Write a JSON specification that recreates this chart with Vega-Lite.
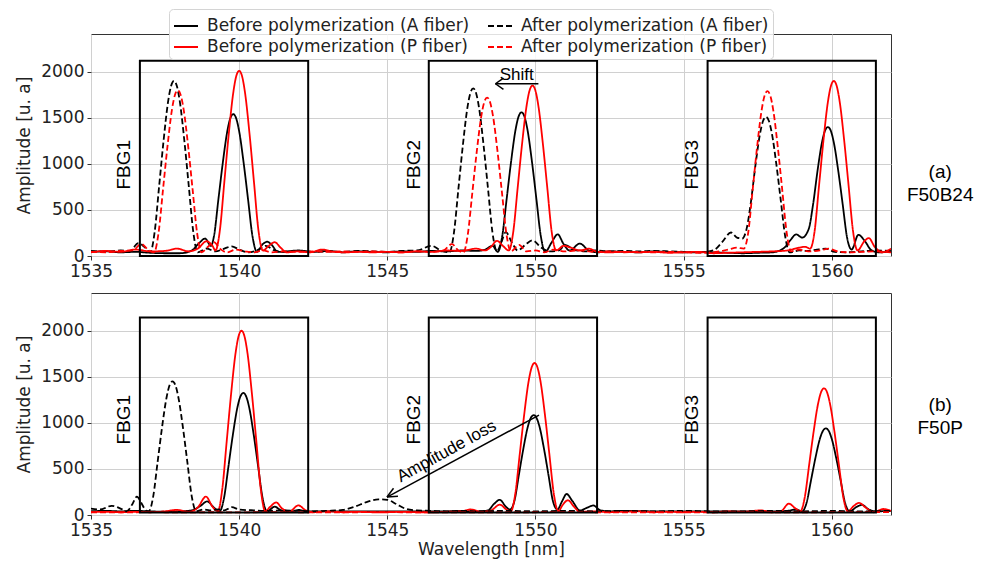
{
"$schema": "https://vega.github.io/schema/vega-lite/v6.json",
"padding": {"left": 15, "top": 8, "right": 5, "bottom": 5},
"bounds": "flush",
"spacing": 37,
"datasets": {
"A": [
{"s":"BA","x":1535,"y":45},{"s":"BA","x":1535.5,"y":50},{"s":"BA","x":1536,"y":40},{"s":"BA","x":1536.5,"y":45},{"s":"BA","x":1537,"y":35},{"s":"BA","x":1537.5,"y":30},{"s":"BA","x":1538,"y":30},{"s":"BA","x":1538.4,"y":60},{"s":"BA","x":1538.65,"y":140},{"s":"BA","x":1538.85,"y":190},{"s":"BA","x":1539.05,"y":110},{"s":"BA","x":1539.15,"y":215},{"s":"BA","x":1539.3,"y":616},{"s":"BA","x":1539.45,"y":1016},{"s":"BA","x":1539.6,"y":1355},{"s":"BA","x":1539.7,"y":1494},{"s":"BA","x":1539.8,"y":1540},{"s":"BA","x":1539.9,"y":1494},{"s":"BA","x":1540,"y":1355},{"s":"BA","x":1540.15,"y":1016},{"s":"BA","x":1540.3,"y":616},{"s":"BA","x":1540.45,"y":215},{"s":"BA","x":1540.6,"y":45},{"s":"BA","x":1540.8,"y":130},{"s":"BA","x":1540.95,"y":155},{"s":"BA","x":1541.1,"y":120},{"s":"BA","x":1541.3,"y":45},{"s":"BA","x":1541.6,"y":50},{"s":"BA","x":1542,"y":60},{"s":"BA","x":1542.5,"y":45},{"s":"BA","x":1543,"y":55},{"s":"BA","x":1543.5,"y":40},{"s":"BA","x":1544,"y":50},{"s":"BA","x":1544.5,"y":45},{"s":"BA","x":1545,"y":40},{"s":"BA","x":1545.5,"y":50},{"s":"BA","x":1546,"y":45},{"s":"BA","x":1546.5,"y":55},{"s":"BA","x":1547,"y":50},{"s":"BA","x":1547.5,"y":60},{"s":"BA","x":1548,"y":55},{"s":"BA","x":1548.3,"y":70},{"s":"BA","x":1548.55,"y":110},{"s":"BA","x":1548.73,"y":45},{"s":"BA","x":1548.88,"y":218},{"s":"BA","x":1549.03,"y":624},{"s":"BA","x":1549.18,"y":1030},{"s":"BA","x":1549.33,"y":1373},{"s":"BA","x":1549.43,"y":1513},{"s":"BA","x":1549.53,"y":1560},{"s":"BA","x":1549.63,"y":1513},{"s":"BA","x":1549.73,"y":1373},{"s":"BA","x":1549.88,"y":1030},{"s":"BA","x":1550.03,"y":624},{"s":"BA","x":1550.18,"y":218},{"s":"BA","x":1550.33,"y":45},{"s":"BA","x":1550.55,"y":150},{"s":"BA","x":1550.75,"y":235},{"s":"BA","x":1550.95,"y":130},{"s":"BA","x":1551.15,"y":60},{"s":"BA","x":1551.5,"y":135},{"s":"BA","x":1551.8,"y":60},{"s":"BA","x":1552.1,"y":40},{"s":"BA","x":1552.5,"y":50},{"s":"BA","x":1553,"y":45},{"s":"BA","x":1553.5,"y":40},{"s":"BA","x":1554,"y":50},{"s":"BA","x":1554.5,"y":45},{"s":"BA","x":1555,"y":40},{"s":"BA","x":1555.5,"y":45},{"s":"BA","x":1556,"y":40},{"s":"BA","x":1556.5,"y":35},{"s":"BA","x":1557,"y":30},{"s":"BA","x":1557.5,"y":35},{"s":"BA","x":1558,"y":40},{"s":"BA","x":1558.4,"y":90},{"s":"BA","x":1558.6,"y":170},{"s":"BA","x":1558.8,"y":235},{"s":"BA","x":1559,"y":200},{"s":"BA","x":1559.22,"y":290},{"s":"BA","x":1559.37,"y":560},{"s":"BA","x":1559.52,"y":924},{"s":"BA","x":1559.67,"y":1232},{"s":"BA","x":1559.77,"y":1358},{"s":"BA","x":1559.87,"y":1400},{"s":"BA","x":1559.97,"y":1358},{"s":"BA","x":1560.07,"y":1232},{"s":"BA","x":1560.22,"y":924},{"s":"BA","x":1560.37,"y":560},{"s":"BA","x":1560.52,"y":196},{"s":"BA","x":1560.67,"y":70},{"s":"BA","x":1560.9,"y":230},{"s":"BA","x":1561.1,"y":170},{"s":"BA","x":1561.35,"y":60},{"s":"BA","x":1561.6,"y":40},{"s":"BA","x":1562,"y":50},
{"s":"AA","x":1535,"y":55},{"s":"AA","x":1535.5,"y":45},{"s":"AA","x":1536,"y":60},{"s":"AA","x":1536.3,"y":50},{"s":"AA","x":1536.6,"y":140},{"s":"AA","x":1536.8,"y":100},{"s":"AA","x":1537,"y":40},{"s":"AA","x":1537.15,"y":266},{"s":"AA","x":1537.3,"y":760},{"s":"AA","x":1537.45,"y":1254},{"s":"AA","x":1537.6,"y":1672},{"s":"AA","x":1537.7,"y":1843},{"s":"AA","x":1537.8,"y":1900},{"s":"AA","x":1537.9,"y":1843},{"s":"AA","x":1538,"y":1672},{"s":"AA","x":1538.15,"y":1254},{"s":"AA","x":1538.3,"y":760},{"s":"AA","x":1538.45,"y":266},{"s":"AA","x":1538.6,"y":40},{"s":"AA","x":1538.9,"y":80},{"s":"AA","x":1539.2,"y":50},{"s":"AA","x":1539.5,"y":80},{"s":"AA","x":1539.75,"y":105},{"s":"AA","x":1540,"y":70},{"s":"AA","x":1540.3,"y":40},{"s":"AA","x":1540.6,"y":60},{"s":"AA","x":1540.9,"y":110},{"s":"AA","x":1541.2,"y":60},{"s":"AA","x":1541.5,"y":45},{"s":"AA","x":1542,"y":55},{"s":"AA","x":1542.5,"y":45},{"s":"AA","x":1543,"y":50},{"s":"AA","x":1543.5,"y":45},{"s":"AA","x":1544,"y":55},{"s":"AA","x":1544.5,"y":50},{"s":"AA","x":1545,"y":45},{"s":"AA","x":1545.5,"y":55},{"s":"AA","x":1546,"y":60},{"s":"AA","x":1546.5,"y":110},{"s":"AA","x":1546.8,"y":60},{"s":"AA","x":1547.1,"y":40},{"s":"AA","x":1547.25,"y":255},{"s":"AA","x":1547.4,"y":728},{"s":"AA","x":1547.55,"y":1201},{"s":"AA","x":1547.7,"y":1602},{"s":"AA","x":1547.8,"y":1765},{"s":"AA","x":1547.9,"y":1820},{"s":"AA","x":1548,"y":1765},{"s":"AA","x":1548.1,"y":1602},{"s":"AA","x":1548.25,"y":1201},{"s":"AA","x":1548.4,"y":728},{"s":"AA","x":1548.55,"y":255},{"s":"AA","x":1548.7,"y":50},{"s":"AA","x":1548.85,"y":150},{"s":"AA","x":1549,"y":260},{"s":"AA","x":1549.2,"y":150},{"s":"AA","x":1549.4,"y":60},{"s":"AA","x":1549.65,"y":120},{"s":"AA","x":1549.9,"y":170},{"s":"AA","x":1550.2,"y":90},{"s":"AA","x":1550.5,"y":50},{"s":"AA","x":1550.8,"y":60},{"s":"AA","x":1551,"y":120},{"s":"AA","x":1551.3,"y":70},{"s":"AA","x":1551.7,"y":50},{"s":"AA","x":1552,"y":60},{"s":"AA","x":1552.5,"y":50},{"s":"AA","x":1553,"y":55},{"s":"AA","x":1553.5,"y":50},{"s":"AA","x":1554,"y":55},{"s":"AA","x":1554.5,"y":50},{"s":"AA","x":1555,"y":45},{"s":"AA","x":1555.5,"y":40},{"s":"AA","x":1556,"y":60},{"s":"AA","x":1556.3,"y":150},{"s":"AA","x":1556.6,"y":255},{"s":"AA","x":1556.8,"y":200},{"s":"AA","x":1556.98,"y":190},{"s":"AA","x":1557.13,"y":300},{"s":"AA","x":1557.28,"y":604},{"s":"AA","x":1557.43,"y":997},{"s":"AA","x":1557.58,"y":1329},{"s":"AA","x":1557.68,"y":1465},{"s":"AA","x":1557.78,"y":1510},{"s":"AA","x":1557.88,"y":1465},{"s":"AA","x":1557.98,"y":1329},{"s":"AA","x":1558.13,"y":997},{"s":"AA","x":1558.28,"y":604},{"s":"AA","x":1558.43,"y":211},{"s":"AA","x":1558.58,"y":40},{"s":"AA","x":1558.9,"y":60},{"s":"AA","x":1559.2,"y":55},{"s":"AA","x":1559.5,"y":70},{"s":"AA","x":1559.8,"y":80},{"s":"AA","x":1560.1,"y":45},{"s":"AA","x":1560.5,"y":40},{"s":"AA","x":1561,"y":50},{"s":"AA","x":1561.5,"y":60},{"s":"AA","x":1562,"y":55},
{"s":"BP","x":1535,"y":40},{"s":"BP","x":1535.5,"y":55},{"s":"BP","x":1536,"y":45},{"s":"BP","x":1536.5,"y":70},{"s":"BP","x":1537,"y":50},{"s":"BP","x":1537.5,"y":55},{"s":"BP","x":1537.9,"y":80},{"s":"BP","x":1538.3,"y":50},{"s":"BP","x":1538.6,"y":80},{"s":"BP","x":1538.9,"y":160},{"s":"BP","x":1539.1,"y":110},{"s":"BP","x":1539.2,"y":60},{"s":"BP","x":1539.35,"y":281},{"s":"BP","x":1539.5,"y":804},{"s":"BP","x":1539.65,"y":1327},{"s":"BP","x":1539.8,"y":1769},{"s":"BP","x":1539.9,"y":1950},{"s":"BP","x":1540,"y":2010},{"s":"BP","x":1540.1,"y":1950},{"s":"BP","x":1540.2,"y":1769},{"s":"BP","x":1540.35,"y":1327},{"s":"BP","x":1540.5,"y":804},{"s":"BP","x":1540.65,"y":281},{"s":"BP","x":1540.8,"y":60},{"s":"BP","x":1541,"y":110},{"s":"BP","x":1541.2,"y":150},{"s":"BP","x":1541.4,"y":90},{"s":"BP","x":1541.6,"y":40},{"s":"BP","x":1542,"y":50},{"s":"BP","x":1542.4,"y":40},{"s":"BP","x":1542.8,"y":70},{"s":"BP","x":1543.2,"y":45},{"s":"BP","x":1543.6,"y":40},{"s":"BP","x":1544,"y":45},{"s":"BP","x":1544.5,"y":40},{"s":"BP","x":1545,"y":45},{"s":"BP","x":1545.5,"y":40},{"s":"BP","x":1546,"y":50},{"s":"BP","x":1546.5,"y":45},{"s":"BP","x":1547,"y":60},{"s":"BP","x":1547.5,"y":55},{"s":"BP","x":1548,"y":80},{"s":"BP","x":1548.3,"y":60},{"s":"BP","x":1548.5,"y":100},{"s":"BP","x":1548.7,"y":165},{"s":"BP","x":1548.9,"y":110},{"s":"BP","x":1549.1,"y":60},{"s":"BP","x":1549.25,"y":259},{"s":"BP","x":1549.4,"y":740},{"s":"BP","x":1549.55,"y":1221},{"s":"BP","x":1549.7,"y":1628},{"s":"BP","x":1549.8,"y":1795},{"s":"BP","x":1549.9,"y":1850},{"s":"BP","x":1550,"y":1795},{"s":"BP","x":1550.1,"y":1628},{"s":"BP","x":1550.25,"y":1221},{"s":"BP","x":1550.4,"y":740},{"s":"BP","x":1550.55,"y":259},{"s":"BP","x":1550.7,"y":60},{"s":"BP","x":1550.95,"y":110},{"s":"BP","x":1551.2,"y":90},{"s":"BP","x":1551.5,"y":60},{"s":"BP","x":1551.8,"y":80},{"s":"BP","x":1552.1,"y":45},{"s":"BP","x":1552.5,"y":40},{"s":"BP","x":1553,"y":45},{"s":"BP","x":1553.5,"y":40},{"s":"BP","x":1554,"y":45},{"s":"BP","x":1554.5,"y":35},{"s":"BP","x":1555,"y":40},{"s":"BP","x":1555.5,"y":45},{"s":"BP","x":1556,"y":30},{"s":"BP","x":1556.5,"y":35},{"s":"BP","x":1557,"y":40},{"s":"BP","x":1557.5,"y":45},{"s":"BP","x":1558,"y":50},{"s":"BP","x":1558.5,"y":60},{"s":"BP","x":1558.9,"y":90},{"s":"BP","x":1559.1,"y":100},{"s":"BP","x":1559.27,"y":80},{"s":"BP","x":1559.42,"y":266},{"s":"BP","x":1559.57,"y":760},{"s":"BP","x":1559.72,"y":1254},{"s":"BP","x":1559.87,"y":1672},{"s":"BP","x":1559.97,"y":1843},{"s":"BP","x":1560.07,"y":1900},{"s":"BP","x":1560.17,"y":1843},{"s":"BP","x":1560.27,"y":1672},{"s":"BP","x":1560.42,"y":1254},{"s":"BP","x":1560.57,"y":760},{"s":"BP","x":1560.72,"y":266},{"s":"BP","x":1560.87,"y":60},{"s":"BP","x":1561.1,"y":160},{"s":"BP","x":1561.25,"y":195},{"s":"BP","x":1561.45,"y":100},{"s":"BP","x":1561.7,"y":40},{"s":"BP","x":1562,"y":80},
{"s":"AP","x":1535,"y":45},{"s":"AP","x":1535.5,"y":40},{"s":"AP","x":1536,"y":55},{"s":"AP","x":1536.4,"y":60},{"s":"AP","x":1536.7,"y":130},{"s":"AP","x":1536.95,"y":60},{"s":"AP","x":1537.13,"y":40},{"s":"AP","x":1537.28,"y":252},{"s":"AP","x":1537.43,"y":720},{"s":"AP","x":1537.58,"y":1188},{"s":"AP","x":1537.73,"y":1584},{"s":"AP","x":1537.83,"y":1746},{"s":"AP","x":1537.93,"y":1800},{"s":"AP","x":1538.03,"y":1746},{"s":"AP","x":1538.13,"y":1584},{"s":"AP","x":1538.28,"y":1188},{"s":"AP","x":1538.43,"y":720},{"s":"AP","x":1538.58,"y":252},{"s":"AP","x":1538.73,"y":40},{"s":"AP","x":1538.95,"y":100},{"s":"AP","x":1539.15,"y":150},{"s":"AP","x":1539.35,"y":80},{"s":"AP","x":1539.6,"y":40},{"s":"AP","x":1539.9,"y":70},{"s":"AP","x":1540.2,"y":50},{"s":"AP","x":1540.5,"y":40},{"s":"AP","x":1540.8,"y":60},{"s":"AP","x":1541.1,"y":40},{"s":"AP","x":1541.5,"y":50},{"s":"AP","x":1542,"y":45},{"s":"AP","x":1542.5,"y":50},{"s":"AP","x":1543,"y":45},{"s":"AP","x":1543.5,"y":50},{"s":"AP","x":1544,"y":45},{"s":"AP","x":1544.5,"y":50},{"s":"AP","x":1545,"y":45},{"s":"AP","x":1545.5,"y":40},{"s":"AP","x":1546,"y":50},{"s":"AP","x":1546.5,"y":45},{"s":"AP","x":1546.9,"y":60},{"s":"AP","x":1547.18,"y":130},{"s":"AP","x":1547.4,"y":60},{"s":"AP","x":1547.57,"y":40},{"s":"AP","x":1547.72,"y":241},{"s":"AP","x":1547.87,"y":688},{"s":"AP","x":1548.02,"y":1135},{"s":"AP","x":1548.17,"y":1514},{"s":"AP","x":1548.27,"y":1668},{"s":"AP","x":1548.37,"y":1720},{"s":"AP","x":1548.47,"y":1668},{"s":"AP","x":1548.57,"y":1514},{"s":"AP","x":1548.72,"y":1135},{"s":"AP","x":1548.87,"y":688},{"s":"AP","x":1549.02,"y":241},{"s":"AP","x":1549.17,"y":50},{"s":"AP","x":1549.45,"y":120},{"s":"AP","x":1549.7,"y":50},{"s":"AP","x":1550,"y":60},{"s":"AP","x":1550.3,"y":40},{"s":"AP","x":1550.6,"y":70},{"s":"AP","x":1551,"y":50},{"s":"AP","x":1551.5,"y":60},{"s":"AP","x":1552,"y":45},{"s":"AP","x":1552.5,"y":50},{"s":"AP","x":1553,"y":40},{"s":"AP","x":1553.5,"y":45},{"s":"AP","x":1554,"y":40},{"s":"AP","x":1554.5,"y":45},{"s":"AP","x":1555,"y":40},{"s":"AP","x":1555.5,"y":35},{"s":"AP","x":1556,"y":40},{"s":"AP","x":1556.5,"y":70},{"s":"AP","x":1556.8,"y":90},{"s":"AP","x":1557.03,"y":80},{"s":"AP","x":1557.18,"y":251},{"s":"AP","x":1557.33,"y":716},{"s":"AP","x":1557.48,"y":1181},{"s":"AP","x":1557.63,"y":1575},{"s":"AP","x":1557.73,"y":1736},{"s":"AP","x":1557.83,"y":1790},{"s":"AP","x":1557.93,"y":1736},{"s":"AP","x":1558.03,"y":1575},{"s":"AP","x":1558.18,"y":1181},{"s":"AP","x":1558.33,"y":716},{"s":"AP","x":1558.48,"y":251},{"s":"AP","x":1558.63,"y":50},{"s":"AP","x":1558.9,"y":70},{"s":"AP","x":1559.2,"y":50},{"s":"AP","x":1559.6,"y":60},{"s":"AP","x":1559.9,"y":80},{"s":"AP","x":1560.2,"y":50},{"s":"AP","x":1560.6,"y":40},{"s":"AP","x":1561,"y":45},{"s":"AP","x":1561.5,"y":50},{"s":"AP","x":1562,"y":40}
],
"B": [
{"s":"BA","x":1535,"y":40},{"s":"BA","x":1535.5,"y":45},{"s":"BA","x":1536,"y":40},{"s":"BA","x":1536.5,"y":45},{"s":"BA","x":1537,"y":40},{"s":"BA","x":1537.5,"y":35},{"s":"BA","x":1538,"y":40},{"s":"BA","x":1538.4,"y":50},{"s":"BA","x":1538.7,"y":100},{"s":"BA","x":1538.92,"y":148},{"s":"BA","x":1539.15,"y":80},{"s":"BA","x":1539.34,"y":40},{"s":"BA","x":1539.49,"y":186},{"s":"BA","x":1539.64,"y":530},{"s":"BA","x":1539.79,"y":875},{"s":"BA","x":1539.94,"y":1166},{"s":"BA","x":1540.04,"y":1285},{"s":"BA","x":1540.14,"y":1325},{"s":"BA","x":1540.24,"y":1285},{"s":"BA","x":1540.34,"y":1166},{"s":"BA","x":1540.49,"y":875},{"s":"BA","x":1540.64,"y":530},{"s":"BA","x":1540.79,"y":186},{"s":"BA","x":1540.94,"y":40},{"s":"BA","x":1541.2,"y":90},{"s":"BA","x":1541.45,"y":45},{"s":"BA","x":1541.8,"y":40},{"s":"BA","x":1542,"y":55},{"s":"BA","x":1542.3,"y":40},{"s":"BA","x":1543,"y":40},{"s":"BA","x":1544,"y":40},{"s":"BA","x":1545,"y":40},{"s":"BA","x":1546,"y":40},{"s":"BA","x":1547,"y":40},{"s":"BA","x":1547.5,"y":45},{"s":"BA","x":1548,"y":40},{"s":"BA","x":1548.4,"y":50},{"s":"BA","x":1548.6,"y":120},{"s":"BA","x":1548.8,"y":165},{"s":"BA","x":1549,"y":90},{"s":"BA","x":1549.14,"y":60},{"s":"BA","x":1549.29,"y":152},{"s":"BA","x":1549.44,"y":434},{"s":"BA","x":1549.59,"y":716},{"s":"BA","x":1549.74,"y":955},{"s":"BA","x":1549.84,"y":1052},{"s":"BA","x":1549.94,"y":1085},{"s":"BA","x":1550.04,"y":1052},{"s":"BA","x":1550.14,"y":955},{"s":"BA","x":1550.29,"y":716},{"s":"BA","x":1550.44,"y":434},{"s":"BA","x":1550.59,"y":152},{"s":"BA","x":1550.74,"y":60},{"s":"BA","x":1550.9,"y":150},{"s":"BA","x":1551.05,"y":228},{"s":"BA","x":1551.25,"y":150},{"s":"BA","x":1551.5,"y":50},{"s":"BA","x":1551.75,"y":80},{"s":"BA","x":1551.95,"y":104},{"s":"BA","x":1552.2,"y":50},{"s":"BA","x":1552.5,"y":40},{"s":"BA","x":1553,"y":45},{"s":"BA","x":1554,"y":40},{"s":"BA","x":1555,"y":40},{"s":"BA","x":1556,"y":40},{"s":"BA","x":1557,"y":40},{"s":"BA","x":1558,"y":40},{"s":"BA","x":1558.5,"y":45},{"s":"BA","x":1558.8,"y":60},{"s":"BA","x":1559,"y":40},{"s":"BA","x":1559.15,"y":132},{"s":"BA","x":1559.3,"y":376},{"s":"BA","x":1559.45,"y":620},{"s":"BA","x":1559.6,"y":827},{"s":"BA","x":1559.7,"y":912},{"s":"BA","x":1559.8,"y":940},{"s":"BA","x":1559.9,"y":912},{"s":"BA","x":1560,"y":827},{"s":"BA","x":1560.15,"y":620},{"s":"BA","x":1560.3,"y":376},{"s":"BA","x":1560.45,"y":132},{"s":"BA","x":1560.6,"y":40},{"s":"BA","x":1560.85,"y":90},{"s":"BA","x":1561.02,"y":110},{"s":"BA","x":1561.25,"y":60},{"s":"BA","x":1561.5,"y":40},{"s":"BA","x":1562,"y":45},
{"s":"BP","x":1535,"y":30},{"s":"BP","x":1535.5,"y":35},{"s":"BP","x":1536,"y":30},{"s":"BP","x":1536.5,"y":35},{"s":"BP","x":1537,"y":30},{"s":"BP","x":1537.5,"y":40},{"s":"BP","x":1537.9,"y":55},{"s":"BP","x":1538.3,"y":35},{"s":"BP","x":1538.6,"y":80},{"s":"BP","x":1538.88,"y":200},{"s":"BP","x":1539.1,"y":90},{"s":"BP","x":1539.28,"y":40},{"s":"BP","x":1539.43,"y":280},{"s":"BP","x":1539.58,"y":800},{"s":"BP","x":1539.73,"y":1320},{"s":"BP","x":1539.88,"y":1760},{"s":"BP","x":1539.98,"y":1940},{"s":"BP","x":1540.08,"y":2000},{"s":"BP","x":1540.18,"y":1940},{"s":"BP","x":1540.28,"y":1760},{"s":"BP","x":1540.43,"y":1320},{"s":"BP","x":1540.58,"y":800},{"s":"BP","x":1540.73,"y":280},{"s":"BP","x":1540.88,"y":40},{"s":"BP","x":1541.05,"y":90},{"s":"BP","x":1541.25,"y":137},{"s":"BP","x":1541.45,"y":70},{"s":"BP","x":1541.7,"y":40},{"s":"BP","x":1542,"y":104},{"s":"BP","x":1542.25,"y":50},{"s":"BP","x":1542.5,"y":30},{"s":"BP","x":1543,"y":40},{"s":"BP","x":1543.5,"y":30},{"s":"BP","x":1544,"y":35},{"s":"BP","x":1544.5,"y":30},{"s":"BP","x":1545,"y":30},{"s":"BP","x":1545.5,"y":35},{"s":"BP","x":1546,"y":30},{"s":"BP","x":1546.5,"y":30},{"s":"BP","x":1547,"y":35},{"s":"BP","x":1547.5,"y":40},{"s":"BP","x":1547.8,"y":60},{"s":"BP","x":1548.2,"y":35},{"s":"BP","x":1548.5,"y":50},{"s":"BP","x":1548.8,"y":112},{"s":"BP","x":1549.02,"y":60},{"s":"BP","x":1549.17,"y":40},{"s":"BP","x":1549.32,"y":231},{"s":"BP","x":1549.47,"y":660},{"s":"BP","x":1549.62,"y":1089},{"s":"BP","x":1549.77,"y":1452},{"s":"BP","x":1549.87,"y":1600},{"s":"BP","x":1549.97,"y":1650},{"s":"BP","x":1550.07,"y":1600},{"s":"BP","x":1550.17,"y":1452},{"s":"BP","x":1550.32,"y":1089},{"s":"BP","x":1550.47,"y":660},{"s":"BP","x":1550.62,"y":231},{"s":"BP","x":1550.77,"y":40},{"s":"BP","x":1550.92,"y":110},{"s":"BP","x":1551.1,"y":160},{"s":"BP","x":1551.3,"y":90},{"s":"BP","x":1551.5,"y":35},{"s":"BP","x":1552,"y":40},{"s":"BP","x":1552.5,"y":30},{"s":"BP","x":1553,"y":35},{"s":"BP","x":1553.5,"y":40},{"s":"BP","x":1554,"y":30},{"s":"BP","x":1554.5,"y":35},{"s":"BP","x":1555,"y":30},{"s":"BP","x":1555.5,"y":35},{"s":"BP","x":1556,"y":30},{"s":"BP","x":1556.5,"y":40},{"s":"BP","x":1557,"y":35},{"s":"BP","x":1557.6,"y":50},{"s":"BP","x":1558,"y":30},{"s":"BP","x":1558.3,"y":45},{"s":"BP","x":1558.55,"y":123},{"s":"BP","x":1558.78,"y":70},{"s":"BP","x":1558.94,"y":40},{"s":"BP","x":1559.09,"y":193},{"s":"BP","x":1559.24,"y":550},{"s":"BP","x":1559.39,"y":908},{"s":"BP","x":1559.54,"y":1210},{"s":"BP","x":1559.64,"y":1334},{"s":"BP","x":1559.74,"y":1375},{"s":"BP","x":1559.84,"y":1334},{"s":"BP","x":1559.94,"y":1210},{"s":"BP","x":1560.09,"y":908},{"s":"BP","x":1560.24,"y":550},{"s":"BP","x":1560.39,"y":193},{"s":"BP","x":1560.54,"y":40},{"s":"BP","x":1560.75,"y":100},{"s":"BP","x":1560.92,"y":132},{"s":"BP","x":1561.15,"y":80},{"s":"BP","x":1561.4,"y":30},{"s":"BP","x":1561.75,"y":65},{"s":"BP","x":1562,"y":45},
{"s":"AA","x":1535,"y":70},{"s":"AA","x":1535.3,"y":60},{"s":"AA","x":1535.7,"y":100},{"s":"AA","x":1536,"y":70},{"s":"AA","x":1536.2,"y":40},{"s":"AA","x":1536.4,"y":120},{"s":"AA","x":1536.55,"y":200},{"s":"AA","x":1536.7,"y":130},{"s":"AA","x":1536.85,"y":50},{"s":"AA","x":1536.95,"y":40},{"s":"AA","x":1537.1,"y":203},{"s":"AA","x":1537.25,"y":580},{"s":"AA","x":1537.4,"y":957},{"s":"AA","x":1537.55,"y":1276},{"s":"AA","x":1537.65,"y":1407},{"s":"AA","x":1537.75,"y":1450},{"s":"AA","x":1537.85,"y":1407},{"s":"AA","x":1537.95,"y":1276},{"s":"AA","x":1538.1,"y":957},{"s":"AA","x":1538.25,"y":580},{"s":"AA","x":1538.4,"y":203},{"s":"AA","x":1538.55,"y":40},{"s":"AA","x":1538.8,"y":60},{"s":"AA","x":1539,"y":50},{"s":"AA","x":1539.3,"y":60},{"s":"AA","x":1539.5,"y":50},{"s":"AA","x":1539.75,"y":85},{"s":"AA","x":1540,"y":60},{"s":"AA","x":1540.5,"y":50},{"s":"AA","x":1541,"y":45},{"s":"AA","x":1541.5,"y":50},{"s":"AA","x":1542,"y":45},{"s":"AA","x":1542.5,"y":40},{"s":"AA","x":1543,"y":45},{"s":"AA","x":1543.5,"y":55},{"s":"AA","x":1543.9,"y":90},{"s":"AA","x":1544.3,"y":140},{"s":"AA","x":1544.7,"y":170},{"s":"AA","x":1545,"y":165},{"s":"AA","x":1545.3,"y":120},{"s":"AA","x":1545.6,"y":70},{"s":"AA","x":1546,"y":50},{"s":"AA","x":1546.5,"y":45},{"s":"AA","x":1547,"y":40},{"s":"AA","x":1547.5,"y":45},{"s":"AA","x":1548,"y":40},{"s":"AA","x":1549,"y":45},{"s":"AA","x":1550,"y":40},{"s":"AA","x":1551,"y":45},{"s":"AA","x":1552,"y":40},{"s":"AA","x":1553,"y":45},{"s":"AA","x":1554,"y":40},{"s":"AA","x":1555,"y":45},{"s":"AA","x":1556,"y":40},{"s":"AA","x":1557,"y":40},{"s":"AA","x":1558,"y":45},{"s":"AA","x":1559,"y":40},{"s":"AA","x":1560,"y":45},{"s":"AA","x":1561,"y":40},{"s":"AA","x":1562,"y":45},
{"s":"AP","x":1535,"y":30},{"s":"AP","x":1536,"y":28},{"s":"AP","x":1537,"y":32},{"s":"AP","x":1538,"y":28},{"s":"AP","x":1539,"y":30},{"s":"AP","x":1540,"y":28},{"s":"AP","x":1541,"y":32},{"s":"AP","x":1542,"y":30},{"s":"AP","x":1543,"y":28},{"s":"AP","x":1544,"y":30},{"s":"AP","x":1545,"y":32},{"s":"AP","x":1546,"y":28},{"s":"AP","x":1547,"y":30},{"s":"AP","x":1548,"y":30},{"s":"AP","x":1549,"y":28},{"s":"AP","x":1550,"y":30},{"s":"AP","x":1551,"y":32},{"s":"AP","x":1552,"y":30},{"s":"AP","x":1553,"y":28},{"s":"AP","x":1554,"y":30},{"s":"AP","x":1555,"y":30},{"s":"AP","x":1556,"y":28},{"s":"AP","x":1557,"y":32},{"s":"AP","x":1558,"y":30},{"s":"AP","x":1559,"y":28},{"s":"AP","x":1560,"y":30},{"s":"AP","x":1561,"y":32},{"s":"AP","x":1562,"y":30}
]
},
"vconcat": [
{
"width": 800, "height": 222,
"encoding": {
"x": {"field": "x", "type": "quantitative", "scale": {"domain": [1535, 1562], "nice": false}, "axis": {"title": null, "values": [1535, 1540, 1545, 1550, 1555, 1560], "format": "d", "labelFlush": false}},
"y": {"field": "y", "type": "quantitative", "scale": {"domain": [0, 2410], "nice": false}, "axis": {"title": "Amplitude [u. a]", "values": [0, 500, 1000, 1500, 2000], "format": "d"}}
},
"layer": [
{"data": {"name": "A"}, "mark": {"type": "line", "strokeWidth": 1.8, "interpolate": "monotone", "clip": true},
"encoding": {
"color": {"field": "s", "type": "nominal", "scale": {"domain": ["BA", "BP", "AA", "AP"], "range": ["#000000", "#ff0000", "#000000", "#ff0000"]},
"legend": {"title": null, "orient": "none", "legendX": 78, "legendY": -25, "columns": 2, "columnPadding": 14, "rowPadding": 0, "symbolType": "stroke", "symbolSize": 576, "symbolStrokeWidth": 2, "labelFontSize": 17, "labelFont": "DejaVu Sans", "labelColor": "#222", "labelLimit": 400, "labelOffset": 8, "padding": 4, "fillColor": "rgba(255,255,255,0.85)", "strokeColor": "#d4d4d4", "cornerRadius": 4,
"labelExpr": "datum.label == 'BA' ? 'Before polymerization (A fiber)' : datum.label == 'AA' ? 'After polymerization (A fiber)' : datum.label == 'BP' ? 'Before polymerization (P fiber)' : 'After polymerization (P fiber)'"}},
"strokeDash": {"field": "s", "type": "nominal", "scale": {"domain": ["BA", "BP", "AA", "AP"], "range": [[1, 0], [1, 0], [6, 3], [6, 3]]},
"legend": {"title": null, "orient": "none", "legendX": 78, "legendY": -25, "columns": 2, "columnPadding": 14, "rowPadding": 0, "symbolType": "stroke", "symbolSize": 576, "symbolStrokeWidth": 2, "labelFontSize": 17, "labelFont": "DejaVu Sans", "labelColor": "#222", "labelLimit": 400, "labelOffset": 8, "padding": 4, "fillColor": "rgba(255,255,255,0.85)", "strokeColor": "#d4d4d4", "cornerRadius": 4,
"labelExpr": "datum.label == 'BA' ? 'Before polymerization (A fiber)' : datum.label == 'AA' ? 'After polymerization (A fiber)' : datum.label == 'BP' ? 'Before polymerization (P fiber)' : 'After polymerization (P fiber)'"}}
}},
{"data": {"values": [{"x": 1536.65, "x2": 1542.33, "y": 0, "y2": 2120}, {"x": 1546.4, "x2": 1552.08, "y": 0, "y2": 2120}, {"x": 1555.81, "x2": 1561.49, "y": 0, "y2": 2120}]},
"mark": {"type": "rect", "filled": false, "stroke": "#000000", "strokeWidth": 2},
"encoding": {"x2": {"field": "x2"}, "y2": {"field": "y2"}}},
{"data": {"values": [{"x": 1536.1, "y": 991, "t": "FBG1"}, {"x": 1545.9, "y": 991, "t": "FBG2"}, {"x": 1555.3, "y": 991, "t": "FBG3"}]},
"mark": {"type": "text", "angle": 270, "align": "center", "baseline": "middle", "font": "Liberation Sans", "fontSize": 19, "color": "#000000"},
"encoding": {"text": {"field": "t"}}},
{"data": {"values": [{"x": 1563.66, "y": 913, "t": "(a)\nF50B24"}]},
"mark": {"type": "text", "align": "center", "baseline": "middle", "lineBreak": "\n", "lineHeight": 23, "font": "Liberation Sans", "fontSize": 19, "color": "#000000"},
"encoding": {"text": {"field": "t"}}},
{"data": {"values": [{"x": 1550.1, "y": 1870, "x2": 1548.65, "y2": 1870}, {"x": 1548.65, "y": 1870, "x2": 1548.92, "y2": 1930}, {"x": 1548.65, "y": 1870, "x2": 1548.92, "y2": 1810}]},
"mark": {"type": "rule", "color": "#000000", "strokeWidth": 1.5},
"encoding": {"x2": {"field": "x2"}, "y2": {"field": "y2"}}},
{"data": {"values": [{"x": 1549.37, "y": 1960, "t": "Shift"}]},
"mark": {"type": "text", "align": "center", "baseline": "middle", "font": "Liberation Sans", "fontSize": 17, "color": "#000000"},
"encoding": {"text": {"field": "t"}}}
]
},
{
"width": 800, "height": 222,
"encoding": {
"x": {"field": "x", "type": "quantitative", "scale": {"domain": [1535, 1562], "nice": false}, "axis": {"title": "Wavelength [nm]", "values": [1535, 1540, 1545, 1550, 1555, 1560], "format": "d", "labelFlush": false}},
"y": {"field": "y", "type": "quantitative", "scale": {"domain": [0, 2410], "nice": false}, "axis": {"title": "Amplitude [u. a]", "values": [0, 500, 1000, 1500, 2000], "format": "d"}}
},
"layer": [
{"data": {"name": "B"}, "mark": {"type": "line", "strokeWidth": 1.8, "interpolate": "monotone", "clip": true},
"encoding": {
"color": {"field": "s", "type": "nominal", "scale": {"domain": ["BA", "BP", "AA", "AP"], "range": ["#000000", "#ff0000", "#000000", "#ff0000"]}, "legend": null},
"strokeDash": {"field": "s", "type": "nominal", "scale": {"domain": ["BA", "BP", "AA", "AP"], "range": [[1, 0], [1, 0], [6, 3], [6, 3]]}, "legend": null}
}},
{"data": {"values": [{"x": 1536.65, "x2": 1542.33, "y": 28, "y2": 2145}, {"x": 1546.4, "x2": 1552.08, "y": 28, "y2": 2145}, {"x": 1555.81, "x2": 1561.49, "y": 28, "y2": 2145}]},
"mark": {"type": "rect", "filled": false, "stroke": "#000000", "strokeWidth": 2},
"encoding": {"x2": {"field": "x2"}, "y2": {"field": "y2"}}},
{"data": {"values": [{"x": 1536.1, "y": 1035, "t": "FBG1"}, {"x": 1545.9, "y": 1035, "t": "FBG2"}, {"x": 1555.3, "y": 1035, "t": "FBG3"}]},
"mark": {"type": "text", "angle": 270, "align": "center", "baseline": "middle", "font": "Liberation Sans", "fontSize": 19, "color": "#000000"},
"encoding": {"text": {"field": "t"}}},
{"data": {"values": [{"x": 1563.66, "y": 1192, "t": "(b)\nF50P"}]},
"mark": {"type": "text", "align": "center", "baseline": "middle", "lineBreak": "\n", "lineHeight": 23, "font": "Liberation Sans", "fontSize": 19, "color": "#000000"},
"encoding": {"text": {"field": "t"}}},
{"data": {"values": [{"x": 1550.12, "y": 1085, "x2": 1544.99, "y2": 195}, {"x": 1544.99, "y": 195, "x2": 1545.36, "y2": 204}, {"x": 1544.99, "y": 195, "x2": 1545.21, "y2": 290}]},
"mark": {"type": "rule", "color": "#000000", "strokeWidth": 1.5},
"encoding": {"x2": {"field": "x2"}, "y2": {"field": "y2"}}},
{"data": {"values": [{"x": 1547.0, "y": 690, "t": "Amplitude loss"}]},
"mark": {"type": "text", "align": "center", "baseline": "middle", "angle": 331, "font": "Liberation Sans", "fontSize": 17, "color": "#000000"},
"encoding": {"text": {"field": "t"}}}
]
}
],
"resolve": {"legend": {"color": "independent", "strokeDash": "independent"}},
"config": {
"view": {"stroke": "#333333", "strokeWidth": 1},
"axis": {"grid": true, "gridColor": "#d0d0d0", "gridWidth": 1, "domain": false, "ticks": true, "tickColor": "#333333", "tickSize": 4, "labelFont": "DejaVu Sans", "labelFontSize": 17, "labelColor": "#222222", "labelPadding": 3, "titleFont": "DejaVu Sans", "titleFontSize": 17, "titleFontWeight": "normal", "titleColor": "#222222"},
"axisY": {"titlePadding": 7},
"axisX": {"titlePadding": 3}
}
}
